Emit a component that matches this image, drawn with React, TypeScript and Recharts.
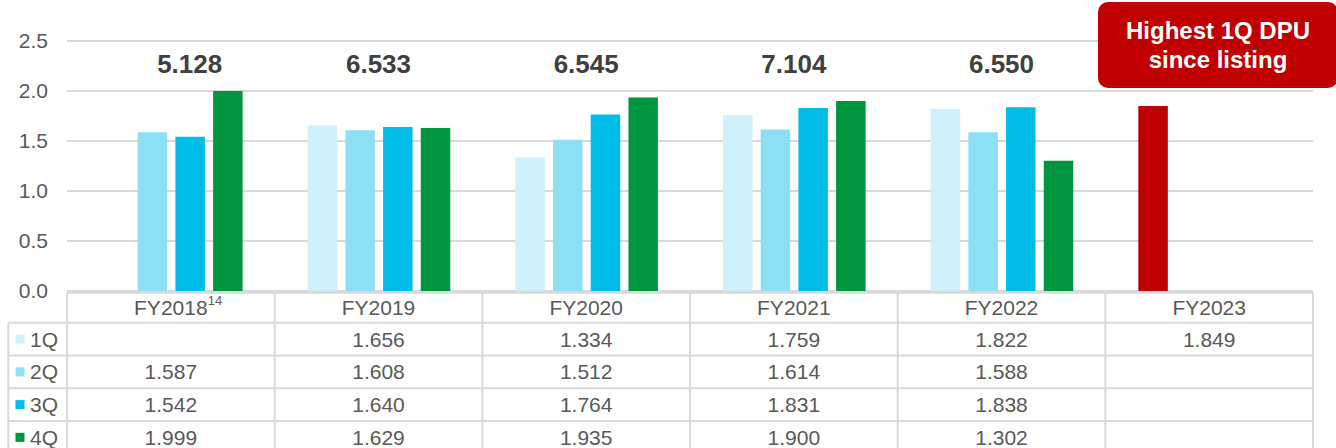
import * as React from "react";
import { Bar, BarChart, CartesianGrid, Cell, XAxis, YAxis } from "recharts";

const YEARS = ["FY2018", "FY2019", "FY2020", "FY2021", "FY2022", "FY2023"];
const YEAR_NOTES = ["14", "", "", "", "", ""];
const Q1 = [null, 1.656, 1.334, 1.759, 1.822, 1.849];
const Q2 = [1.587, 1.608, 1.512, 1.614, 1.588, null];
const Q3 = [1.542, 1.64, 1.764, 1.831, 1.838, null];
const Q4 = [1.999, 1.629, 1.935, 1.9, 1.302, null];
const TOTALS = ["5.128", "6.533", "6.545", "7.104", "6.550", ""];
const QUARTERS = ["1Q", "2Q", "3Q", "4Q"];
const Y_TICKS = [0, 0.5, 1, 1.5, 2, 2.5];
const HIGHLIGHT_YEAR = "FY2023";
const CALLOUT_LINES = ["Highest 1Q DPU", "since listing"];

const FONT = "'Liberation Sans', Arial, sans-serif";
const TEXT = "#595959";
const TOTAL_TEXT = "#404040";
const GRID = "#d9d9d9";
const RED = "#c00000";
const QUARTER_COLORS = ["#cff1f9", "#8de0f4", "#00bde8", "#00953f"];

const WIDTH = 1336;
const HEIGHT = 448;
const MARGIN = { top: 41, right: 23, bottom: 0, left: 0 } as const;
const Y_AXIS_WIDTH = 67;
const X_AXIS_HEIGHT = 157;
const BAR_SIZE = 29.5;
const BAR_GAP = 8.2;
const BAND = (WIDTH - Y_AXIS_WIDTH - MARGIN.left - MARGIN.right) / YEARS.length;

// table row edges, relative to the x axis line
const ROW_LINES = [1.7, 31.7, 64.5, 97.2, 130, 162.7];
const LABEL_LEFT = 8.3;
// baseline of the yearly total, relative to the x axis line
const TOTAL_OFFSET = -218.3;

type Row = { year: string; q1: number | null; q2: number | null; q3: number | null; q4: number | null };

const rows: Row[] = YEARS.map((year, i) => ({
  year,
  q1: Q1[i],
  q2: Q2[i],
  q3: Q3[i],
  q4: Q4[i],
}));

const series = [Q1, Q2, Q3, Q4];

function fmt(v: number | null): string {
  return v == null ? "" : v.toFixed(3);
}

// the total sits over the bars that exist in that year
function totalShift(index: number): number {
  const slots = series.map((s, k) => (s[index] == null ? null : k)).filter((k) => k != null) as number[];
  if (!slots.length) return 0;
  const avg = slots.reduce((a, b) => a + b, 0) / slots.length;
  return (avg - (series.length - 1) / 2) * (BAR_SIZE + BAR_GAP);
}

function TableTick(props: any) {
  const { x, y, index } = props;
  const left = x - BAND / 2;
  const right = x + BAND / 2;
  const bottom = y + ROW_LINES[ROW_LINES.length - 1];
  const isLast = index === YEARS.length - 1;

  return (
    <g fontFamily={FONT} fontSize={21} fill={TEXT}>
      {TOTALS[index] && (
        <text
          x={x + totalShift(index)}
          y={y + TOTAL_OFFSET}
          textAnchor="middle"
          fontSize={26}
          fontWeight="bold"
          fill={TOTAL_TEXT}
        >
          {TOTALS[index]}
        </text>
      )}

      {ROW_LINES.slice(0, 5).map((dy, i) => (
        <line key={"h" + i} x1={left} x2={right} y1={y + dy} y2={y + dy} stroke={GRID} strokeWidth={2} />
      ))}
      <line x1={left} x2={left} y1={y + ROW_LINES[0]} y2={bottom} stroke={GRID} strokeWidth={2} />
      {isLast && <line x1={right} x2={right} y1={y + ROW_LINES[0]} y2={bottom} stroke={GRID} strokeWidth={2} />}

      <text x={x} y={y + 24} textAnchor="middle">
        {YEARS[index]}
      </text>
      {YEAR_NOTES[index] && (
        <text x={x + 37} y={y + 14} fontSize={13}>
          {YEAR_NOTES[index]}
        </text>
      )}

      {series.map((vals, r) => {
        const mid = (ROW_LINES[r + 1] + ROW_LINES[r + 2]) / 2;
        return (
          <text key={"v" + r} x={x} y={y + mid + 7.5} textAnchor="middle">
            {fmt(vals[index])}
          </text>
        );
      })}

      {index === 0 && (
        <g>
          <line x1={LABEL_LEFT} x2={LABEL_LEFT} y1={y + ROW_LINES[1]} y2={bottom} stroke={GRID} strokeWidth={2} />
          {ROW_LINES.slice(1, 5).map((dy, i) => (
            <line key={"lh" + i} x1={LABEL_LEFT} x2={left} y1={y + dy} y2={y + dy} stroke={GRID} strokeWidth={2} />
          ))}
          {QUARTERS.map((q, r) => {
            const mid = (ROW_LINES[r + 1] + ROW_LINES[r + 2]) / 2;
            return (
              <g key={q}>
                <rect x={15.5} y={y + mid - 4.5} width={9} height={9} fill={QUARTER_COLORS[r]} />
                <text x={30} y={y + mid + 7.5}>
                  {q}
                </text>
              </g>
            );
          })}
        </g>
      )}
    </g>
  );
}

export default function App() {
  return (
    <div style={{ position: "absolute", left: 0, top: 0, width: WIDTH, height: HEIGHT, background: "#fff" }}>
      <BarChart width={WIDTH} height={HEIGHT} data={rows} margin={MARGIN} barSize={BAR_SIZE} barGap={BAR_GAP}>
        <CartesianGrid vertical={false} stroke={GRID} strokeWidth={2} />
        <XAxis
          dataKey="year"
          height={X_AXIS_HEIGHT}
          axisLine={false}
          tickLine={false}
          tickSize={0}
          tickMargin={0}
          interval={0}
          tick={<TableTick />}
        />
        <YAxis
          width={Y_AXIS_WIDTH}
          domain={[0, 2.5]}
          ticks={Y_TICKS}
          axisLine={false}
          tickLine={false}
          tickSize={0}
          tickMargin={19}
          tick={{ fontFamily: FONT, fontSize: 21, fill: TEXT }}
          tickFormatter={(v: number) => v.toFixed(1)}
        />
        <Bar dataKey="q1" fill={QUARTER_COLORS[0]} isAnimationActive={false}>
          {rows.map((r) => (
            <Cell key={r.year} fill={r.year === HIGHLIGHT_YEAR ? RED : QUARTER_COLORS[0]} />
          ))}
        </Bar>
        <Bar dataKey="q2" fill={QUARTER_COLORS[1]} isAnimationActive={false} />
        <Bar dataKey="q3" fill={QUARTER_COLORS[2]} isAnimationActive={false} />
        <Bar dataKey="q4" fill={QUARTER_COLORS[3]} isAnimationActive={false} />
      </BarChart>
      <div
        style={{
          position: "absolute",
          left: 1098,
          top: 2,
          width: 240,
          height: 86,
          background: RED,
          borderRadius: 10,
          color: "#fff",
          fontFamily: FONT,
          fontWeight: "bold",
          fontSize: 24,
          lineHeight: "29px",
          textAlign: "center",
          display: "flex",
          flexDirection: "column",
          justifyContent: "center",
        }}
      >
        {CALLOUT_LINES.map((l) => (
          <div key={l}>{l}</div>
        ))}
      </div>
    </div>
  );
}
